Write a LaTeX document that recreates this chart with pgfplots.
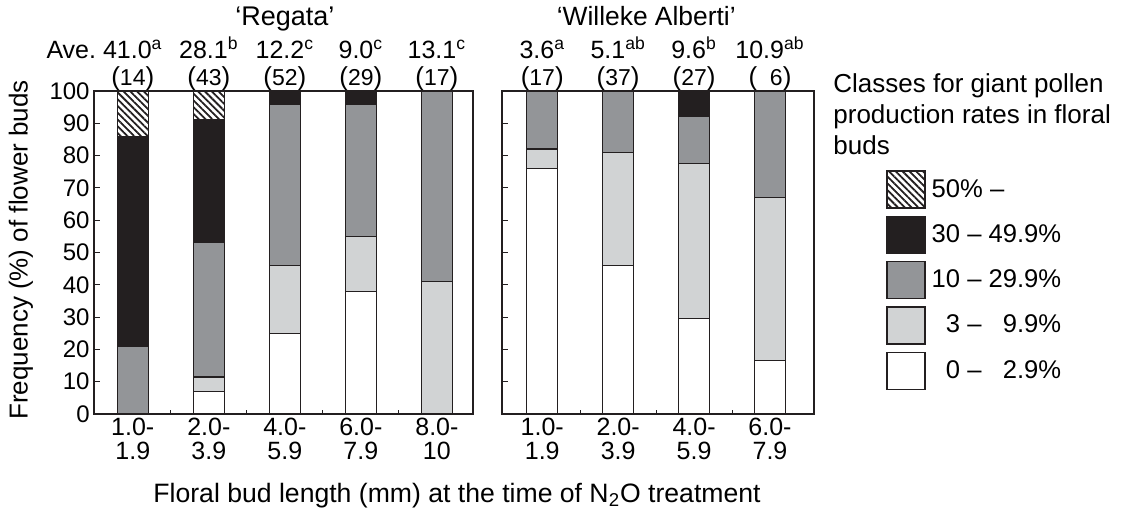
\documentclass[border=0pt]{standalone}
\usepackage{pgfplots}
\pgfplotsset{compat=1.18}
\usepackage{fontspec}
\setmainfont{Liberation Sans}
\usetikzlibrary{patterns.meta}

\definecolor{cblack}{HTML}{231F20}
\definecolor{cgray}{HTML}{939598}
\definecolor{clight}{HTML}{D1D3D4}
\newcommand{\fs}[2]{\fontsize{#1}{#2}\selectfont}
% bud count in parentheses (the brackets are set a little larger)
\newcommand{\pn}[1]{{\fs{13}{13}(}#1{\fs{13}{13})}}

\tikzset{lbl/.style={anchor=base, inner sep=0pt, font=\fs{12.5}{12.5}}}

\pgfplotsset{
  budaxis/.style={
    scale only axis,
    anchor=south west,
    height=161.5pt,
    ybar stacked,
    bar width=15.5pt,
    ymin=0, ymax=100,
    ytick={0,10,...,100},
    ytick pos=left,
    xtick pos=bottom,
    tick align=inside,
    major tick length=3pt,
    minor tick length=2pt,
    major x tick style={draw=none},
    tick style={line width=0.5pt, draw=cblack},
    xtick=data,
    axis line style={line width=0.65pt, draw=cblack},
    clip=false,
    /pgf/number format/assume math mode=true,
    yticklabel style={font=\fs{12}{12}, inner xsep=2pt},
    xticklabel style={align=center, font=\fs{12.5}{12}, inner ysep=2pt},
    legend image code/.code={\draw[##1] (0pt,-9.25pt) rectangle (19pt,9.25pt);},
  },
  cls/.style={draw=cblack, line width=0.65pt, fill=#1},
  hatch/.style={draw=cblack, line width=0.65pt, fill=white,
    pattern={Lines[angle=-45, distance=2.4pt, line width=0.9pt]}, pattern color=cblack},
}

\begin{document}
\begin{tikzpicture}
\path (0pt,0pt) rectangle (563.5pt,255.5pt);

% 'Regata'
\begin{axis}[budaxis,
    at={(47pt,48.5pt)}, width=189.5pt,
    xmin=-0.51, xmax=4.475,
    minor xtick={0.5,1.5,2.5,3.5},
    xticklabels={{1.0-\\1.9},{2.0-\\3.9},{4.0-\\5.9},{6.0-\\7.9},{8.0-\\10}},
]
\addplot[cls=white]  coordinates {(0,0) (1,7) (2,25) (3,38) (4,0)};
\addplot[cls=clight] coordinates {(0,0) (1,4.5) (2,21) (3,17) (4,41)};
\addplot[cls=cgray]  coordinates {(0,21) (1,41.5) (2,50) (3,41) (4,59)};
\addplot[cls=cblack] coordinates {(0,65) (1,38) (2,4) (3,4) (4,0)};
\addplot[hatch]      coordinates {(0,14) (1,9) (2,0) (3,0) (4,0)};

\node[lbl, font=\fs{13.5}{13.5}] at (axis cs:2,100) [yshift=33pt] {`Regata'};
\node[lbl] at (axis cs:0,100) [yshift=16.5pt] {\llap{Ave.\hspace{3.5pt}}41.0\textsuperscript{a}};
\node[lbl] at (axis cs:1,100) [yshift=16.5pt] {28.1\textsuperscript{b}};
\node[lbl] at (axis cs:2,100) [yshift=16.5pt] {12.2\textsuperscript{c}};
\node[lbl] at (axis cs:3,100) [yshift=16.5pt] {9.0\textsuperscript{c}};
\node[lbl] at (axis cs:4,100) [yshift=16.5pt] {13.1\textsuperscript{c}};
\node[lbl, font=\fs{11.5}{11.5}] at (axis cs:0,100) [yshift=3pt] {\pn{14}};
\node[lbl, font=\fs{11.5}{11.5}] at (axis cs:1,100) [yshift=3pt] {\pn{43}};
\node[lbl, font=\fs{11.5}{11.5}] at (axis cs:2,100) [yshift=3pt] {\pn{52}};
\node[lbl, font=\fs{11.5}{11.5}] at (axis cs:3,100) [yshift=3pt] {\pn{29}};
\node[lbl, font=\fs{11.5}{11.5}] at (axis cs:4,100) [yshift=3pt] {\pn{17}};
\end{axis}

% 'Willeke Alberti'
\begin{axis}[budaxis,
    at={(251pt,48.5pt)}, width=156pt,
    xmin=-0.53, xmax=3.58,
    yticklabels={},
    minor xtick={0.5,1.5,2.5},
    xticklabels={{1.0-\\1.9},{2.0-\\3.9},{4.0-\\5.9},{6.0-\\7.9}},
    reverse legend,
    legend cell align=left,
    legend style={at={(1.2308,0.7554)}, anchor=north west, draw=none, fill=none,
      inner sep=0pt, row sep=3.5pt, font=\fs{12.8}{12.8},
      nodes={inner xsep=3pt, inner ysep=0pt}},
]
\addplot[cls=white]  coordinates {(0,76) (1,46) (2,29.5) (3,16.5)};
\addlegendentry{\phantom{1}0 -- \phantom{2}2.9\%}
\addplot[cls=clight] coordinates {(0,6) (1,35) (2,48) (3,50.5)};
\addlegendentry{\phantom{1}3 -- \phantom{2}9.9\%}
\addplot[cls=cgray]  coordinates {(0,18) (1,19) (2,14.5) (3,33)};
\addlegendentry{10 -- 29.9\%}
\addplot[cls=cblack] coordinates {(0,0) (1,0) (2,8) (3,0)};
\addlegendentry{30 -- 49.9\%}
\addplot[hatch]      coordinates {(0,0) (1,0) (2,0) (3,0)};
\addlegendentry{50\% --}

\node[lbl, font=\fs{13.2}{13.2}] at (axis cs:1.37,100) [yshift=33pt] {`Willeke Alberti'};
\node[lbl] at (axis cs:0,100) [yshift=16.5pt] {3.6\textsuperscript{a}};
\node[lbl] at (axis cs:1,100) [yshift=16.5pt] {5.1\textsuperscript{ab}};
\node[lbl] at (axis cs:2,100) [yshift=16.5pt] {9.6\textsuperscript{b}};
\node[lbl] at (axis cs:3,100) [yshift=16.5pt] {10.9\textsuperscript{ab}};
\node[lbl, font=\fs{11.5}{11.5}] at (axis cs:0,100) [yshift=3pt] {\pn{17}};
\node[lbl, font=\fs{11.5}{11.5}] at (axis cs:1,100) [yshift=3pt] {\pn{37}};
\node[lbl, font=\fs{11.5}{11.5}] at (axis cs:2,100) [yshift=3pt] {\pn{27}};
\node[lbl, font=\fs{11.5}{11.5}] at (axis cs:3,100) [yshift=3pt] {\pn{\phantom{0}6}};
\end{axis}

\node[rotate=90, inner sep=0pt, font=\fs{13}{13}] at (10.5pt,130.5pt)
  {Frequency (\%) of flower buds};
\node[anchor=base, inner sep=0pt, font=\fs{13.3}{13.3}] at (228.5pt,4.5pt)
  {Floral bud length (mm) at the time of N\textsubscript{2}O treatment};
\node[anchor=base west, inner sep=0pt, font=\fs{13}{13}] at (416.5pt,209.5pt)
  {Classes for giant pollen};
\node[anchor=base west, inner sep=0pt, font=\fs{13}{13}] at (416.5pt,194pt)
  {production rates in floral};
\node[anchor=base west, inner sep=0pt, font=\fs{13}{13}] at (416.5pt,178.5pt)
  {buds};
\end{tikzpicture}
\end{document}
